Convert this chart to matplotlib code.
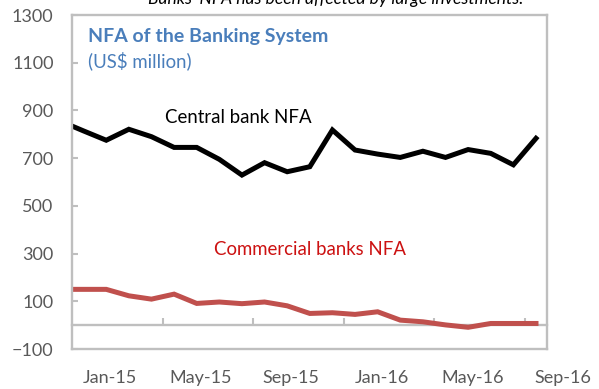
import numpy as np
import pandas as pd
import matplotlib
matplotlib.use('Agg')
import matplotlib.pyplot as plt
import matplotlib.transforms as mtransforms

plt.rcParams['font.family'] = ['Lato', 'DejaVu Sans']

# Monthly observations, Nov-14 to Aug-16 (US$ million)
months = pd.period_range('2014-11', '2016-09', freq='M')
central_bank = [854, 814, 775, 821, 790, 745, 745, 695, 629, 681, 643, 664,
                818, 734, 717, 703, 729, 703, 736, 720, 672, 783]
commercial_banks = [150, 150, 150, 123, 109, 130, 91, 97, 90, 97, 81, 49,
                    52, 45, 56, 21, 14, 1, -9, 7, 7, 7]
label_months = ['Jan-15', 'May-15', 'Sep-15', 'Jan-16', 'May-16', 'Sep-16']
y_ticks = np.arange(-100, 1301, 200)

grey = '#BFBFBF'
fig = plt.figure(figsize=(5.99, 3.89), dpi=100)
ax = fig.add_axes([72.3 / 599, 40 / 389, 475 / 599, 334 / 389])

x = np.arange(len(central_bank))
ax.plot(x, central_bank, color='black', lw=3.6, solid_joinstyle='miter')
ax.plot(x, commercial_banks, color='#C0504D', lw=3.6, solid_joinstyle='miter')

ax.set_xlim(0.5, len(x) - 0.5)
ax.set_ylim(-100, 1300)

# frame
for s in ax.spines.values():
    s.set_color(grey)
    s.set_linewidth(1.7)

ax.set_yticks(y_ticks)
ax.tick_params(axis='y', direction='in', length=4.5, width=1.5, color=grey,
               labelsize=13, labelcolor='#595959', pad=13.5)
ax.set_xticks([])

# category axis sits on the zero line, ticks every 4 months
zero_pos = (0 - (-100)) / (1300 - (-100))
zax = ax.secondary_xaxis(zero_pos)
zax.spines['bottom'].set_color(grey)
zax.spines['bottom'].set_linewidth(1.7)
zax.set_xticks(np.arange(4.5, len(x) - 0.5, 4))
zax.tick_params(axis='x', direction='in', length=5, width=1.5, color=grey,
                labelbottom=False)

# month labels below the frame
labels = [p.strftime('%b-%y') for p in months]
offset = mtransforms.ScaledTranslation(4 / 100, 0, fig.dpi_scale_trans)
trans = mtransforms.blended_transform_factory(ax.transData, ax.transAxes) + offset
for lab in label_months:
    ax.text(labels.index(lab), -0.088, lab, transform=trans, ha='center',
            va='center', fontsize=13, color='#595959', clip_on=False)

ax.text(0.0324, 0.919, 'NFA of the Banking System', transform=ax.transAxes,
        fontsize=14, fontweight='bold', color='#4A7EBB', va='baseline')
ax.text(0.0324, 0.844, '(US$ million)', transform=ax.transAxes,
        fontsize=13.4, color='#4A7EBB', va='baseline')
ax.text(0.196, 0.676, 'Central bank NFA', transform=ax.transAxes,
        fontsize=13.4, color='black', va='baseline')
ax.text(0.298, 0.281, 'Commercial banks NFA', transform=ax.transAxes,
        fontsize=13.4, color='#CC1111', va='baseline')

fig.text(148 / 599, 1 - 4 / 389, "Banks' NFA has been affected by large investments.",
         fontsize=12.6, style='italic', va='baseline', ha='left')

fig.savefig('out.png', dpi=100)
